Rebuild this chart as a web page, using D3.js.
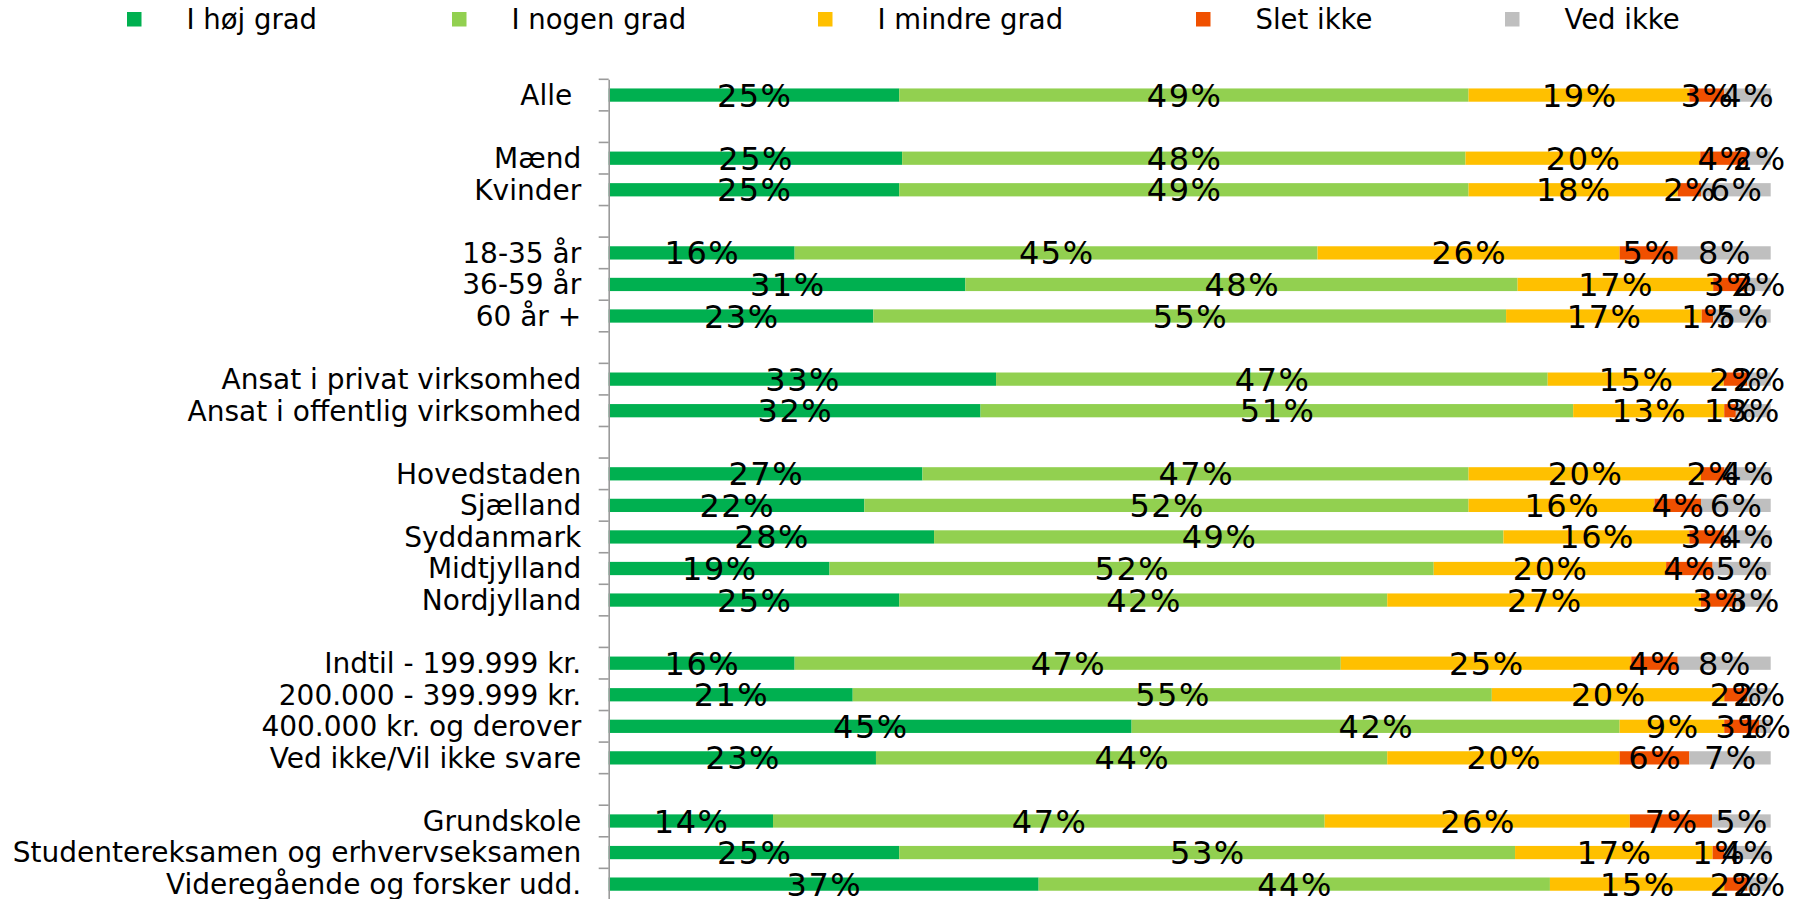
<!DOCTYPE html>
<html>
<head>
<meta charset="utf-8">
<script src="https://cdn.jsdelivr.net/npm/d3@7"></script>
<style>
  html, body { margin: 0; padding: 0; background: #ffffff; }
  svg { display: block; }
  text { font-family: "DejaVu Sans", Verdana, sans-serif; fill: #000; }
</style>
</head>
<body>
<svg id="chart" width="1806" height="899"></svg>
<script>
// ---------- DATA ----------
const categories = [
  "Alle ", "",
  "Mænd", "Kvinder", "",
  "18-35 år", "36-59 år", "60 år +", "",
  "Ansat i privat virksomhed", "Ansat i offentlig virksomhed", "",
  "Hovedstaden", "Sjælland", "Syddanmark", "Midtjylland", "Nordjylland", "",
  "Indtil - 199.999 kr.", "200.000 - 399.999 kr.", "400.000 kr. og derover", "Ved ikke/Vil ikke svare", "",
  "Grundskole", "Studentereksamen og erhvervseksamen", "Videregående og forsker udd."
];
const seriesNames = ["I høj grad", "I nogen grad", "I mindre grad", "Slet ikke", "Ved ikke"];
const hojGrad     = [25, null, 25, 25, null, 16, 31, 23, null, 33, 32, null, 27, 22, 28, 19, 25, null, 16, 21, 45, 23, null, 14, 25, 37];
const nogenGrad   = [49, null, 48, 49, null, 45, 48, 55, null, 47, 51, null, 47, 52, 49, 52, 42, null, 47, 55, 42, 44, null, 47, 53, 44];
const mindreGrad  = [19, null, 20, 18, null, 26, 17, 17, null, 15, 13, null, 20, 16, 16, 20, 27, null, 25, 20,  9, 20, null, 26, 17, 15];
const sletIkke    = [ 3, null,  4,  2, null,  5,  3,  1, null,  2,  1, null,  2,  4,  3,  4,  3, null,  4,  2,  3,  6, null,  7,  1,  2];
const vedIkke     = [ 4, null,  2,  6, null,  8,  2,  5, null,  2,  3, null,  4,  6,  4,  5,  3, null,  8,  2,  1,  7, null,  5,  4,  2];
const seriesColors = ["#00B050", "#92D050", "#FFC000", "#F05000", "#BFBFBF"];

// ---------- LAYOUT ----------
const svg = d3.select("#chart");
const x0 = 608.7, x1 = 1770.7;
const yTop = 79.3, yBottom = 899.9;

const x = d3.scaleLinear().domain([0, 1]).range([x0, x1]);
const y = d3.scaleBand().domain(d3.range(categories.length)).range([yTop, yBottom]).padding(0);
const bw = y.bandwidth();
const barH = bw * 0.42;

const allSeries = [hojGrad, nogenGrad, mindreGrad, sletIkke, vedIkke];
const rows = categories.map((c, i) => {
  const r = { idx: i };
  seriesNames.forEach((s, k) => { r[s] = allSeries[k][i]; });
  return r;
}).filter(r => r[seriesNames[0]] != null);

const stack = d3.stack().keys(seriesNames).offset(d3.stackOffsetExpand);
const stacked = stack(rows);

// bars
const gBars = svg.append("g");
stacked.forEach((layer, k) => {
  gBars.selectAll(null)
    .data(layer)
    .enter().append("rect")
    .attr("x", d => x(d[0]))
    .attr("width", d => Math.max(0, x(d[1]) - x(d[0])))
    .attr("y", d => y(d.data.idx) + (bw - barH) / 2)
    .attr("height", barH)
    .attr("fill", seriesColors[k]);
});

// axis (labels + line)
const axis = d3.axisLeft(y)
  .tickSize(0)
  .tickSizeOuter(0)
  .tickPadding(27.5)
  .tickFormat(i => categories[i]);
const gAxis = svg.append("g").attr("transform", `translate(${x0},0)`).call(axis);
gAxis.select(".domain").attr("stroke", "#9A9A9A").attr("stroke-width", 1.6);
gAxis.selectAll(".tick text")
  .style("font-size", "28px")
  .style("white-space", "pre")
  .attr("fill", "#000")
  .attr("dy", "0.35em");

// boundary tick marks
const bounds = d3.range(categories.length + 1).map(k => yTop + k * bw);
svg.append("g").selectAll("line")
  .data(bounds).enter().append("line")
  .attr("x1", x0 - 10).attr("x2", x0)
  .attr("y1", d => d).attr("y2", d => d)
  .attr("stroke", "#9A9A9A").attr("stroke-width", 1.6);

// data labels
const gLabels = svg.append("g");
stacked.forEach((layer, k) => {
  gLabels.selectAll(null)
    .data(layer)
    .enter().append("text")
    .attr("x", d => (x(d[0]) + x(d[1])) / 2 + 0.75)
    .attr("y", d => y(d.data.idx) + bw / 2)
    .attr("dy", "0.36em")
    .attr("text-anchor", "middle")
    .style("font-size", "32px")
    .style("letter-spacing", "1.5px")
    .text(d => d.data[seriesNames[k]] + "%");
});

// legend
const legendX = [127, 452, 818, 1196, 1505];
const gLeg = svg.append("g");
seriesNames.forEach((s, k) => {
  gLeg.append("rect")
    .attr("x", legendX[k]).attr("y", 12)
    .attr("width", 14.5).attr("height", 14.5)
    .attr("fill", seriesColors[k]);
  gLeg.append("text")
    .attr("x", legendX[k] + 59.5).attr("y", 29.3)
    .style("font-size", "27.5px")
    .text(s);
});
</script>
</body>
</html>
